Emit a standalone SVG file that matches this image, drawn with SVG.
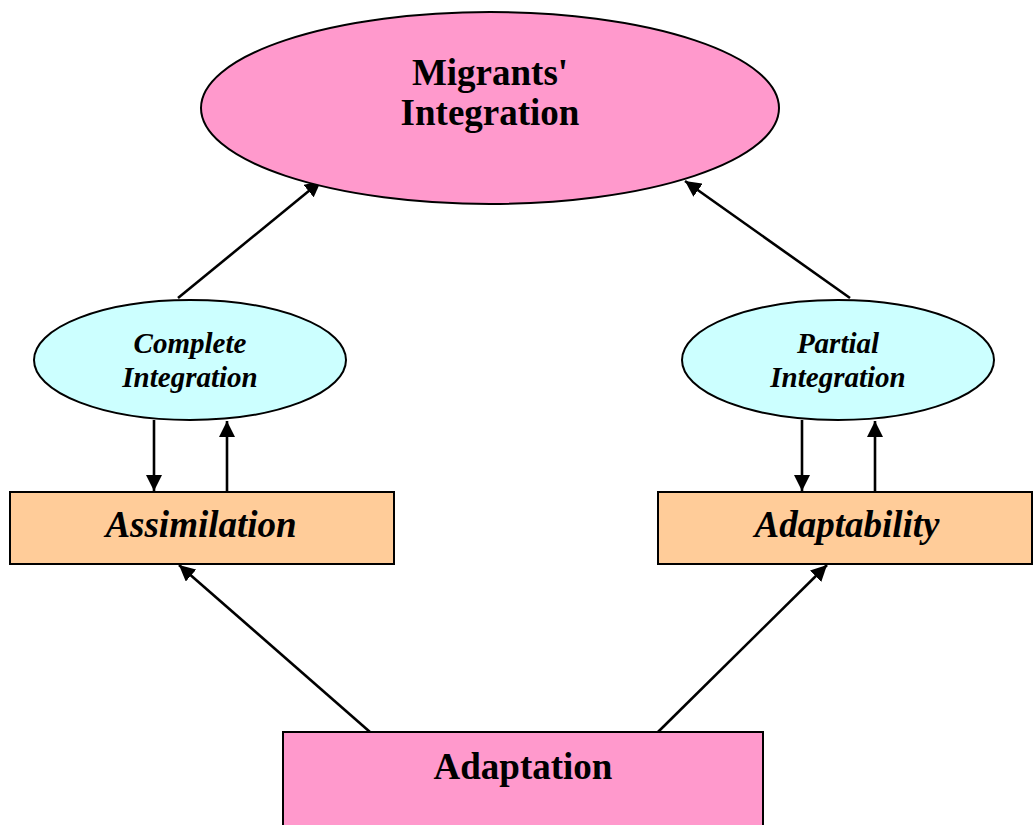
<svg xmlns="http://www.w3.org/2000/svg" width="1034" height="825" viewBox="0 0 1034 825">
<style>
.bt{font-family:"Liberation Serif","Times New Roman",serif;font-weight:bold;fill:#000;text-anchor:middle}
.big{font-size:37px}
.bi{font-style:italic}
.mid{font-size:37px}
.sm{font-size:29px}
.edge{stroke:#000;stroke-width:2.6;fill:none;marker-end:url(#ah)}
.shape{stroke:#000;stroke-width:2}
</style>
<defs>
<marker id="ah" markerUnits="userSpaceOnUse" markerWidth="18" markerHeight="16" refX="16" refY="8" orient="auto">
<path d="M0,0 L16,8 L0,16 Z" fill="#000"/>
</marker>
</defs>
<rect width="1034" height="825" fill="#fff"/>
<g id="connectors">
<line class="edge" x1="178" y1="298" x2="321" y2="181"/>
<line class="edge" x1="850" y1="298" x2="685" y2="181"/>
<line class="edge" x1="154" y1="420" x2="154" y2="491"/>
<line class="edge" x1="227" y1="492" x2="227" y2="421"/>
<line class="edge" x1="802" y1="420" x2="802" y2="491"/>
<line class="edge" x1="875" y1="492" x2="875" y2="421"/>
<line class="edge" x1="370" y1="732" x2="179" y2="565"/>
<line class="edge" x1="658" y1="732" x2="827" y2="565"/>
</g>
<g id="migrants-integration">
<ellipse class="shape" cx="490" cy="108" rx="289" ry="96" fill="#FF99CC"/>
<text class="bt big" x="490" y="85">Migrants'</text>
<text class="bt big" x="490" y="125">Integration</text>
</g>
<g id="complete-integration">
<ellipse class="shape" cx="190" cy="360" rx="156" ry="60" fill="#CCFFFF"/>
<text class="bt bi sm" x="190" y="353">Complete</text>
<text class="bt bi sm" x="190" y="387">Integration</text>
</g>
<g id="partial-integration">
<ellipse class="shape" cx="838" cy="360" rx="156" ry="60" fill="#CCFFFF"/>
<text class="bt bi sm" x="838" y="353">Partial</text>
<text class="bt bi sm" x="838" y="387">Integration</text>
</g>
<g id="assimilation">
<rect class="shape" x="10" y="492" width="384" height="72" fill="#FFCC99"/>
<text class="bt bi mid" x="201" y="537">Assimilation</text>
</g>
<g id="adaptability">
<rect class="shape" x="658" y="492" width="374" height="72" fill="#FFCC99"/>
<text class="bt bi mid" x="847" y="537">Adaptability</text>
</g>
<g id="adaptation">
<rect class="shape" x="283" y="732" width="480" height="110" fill="#FF99CC"/>
<text class="bt big" x="523" y="779">Adaptation</text>
</g>
</svg>
